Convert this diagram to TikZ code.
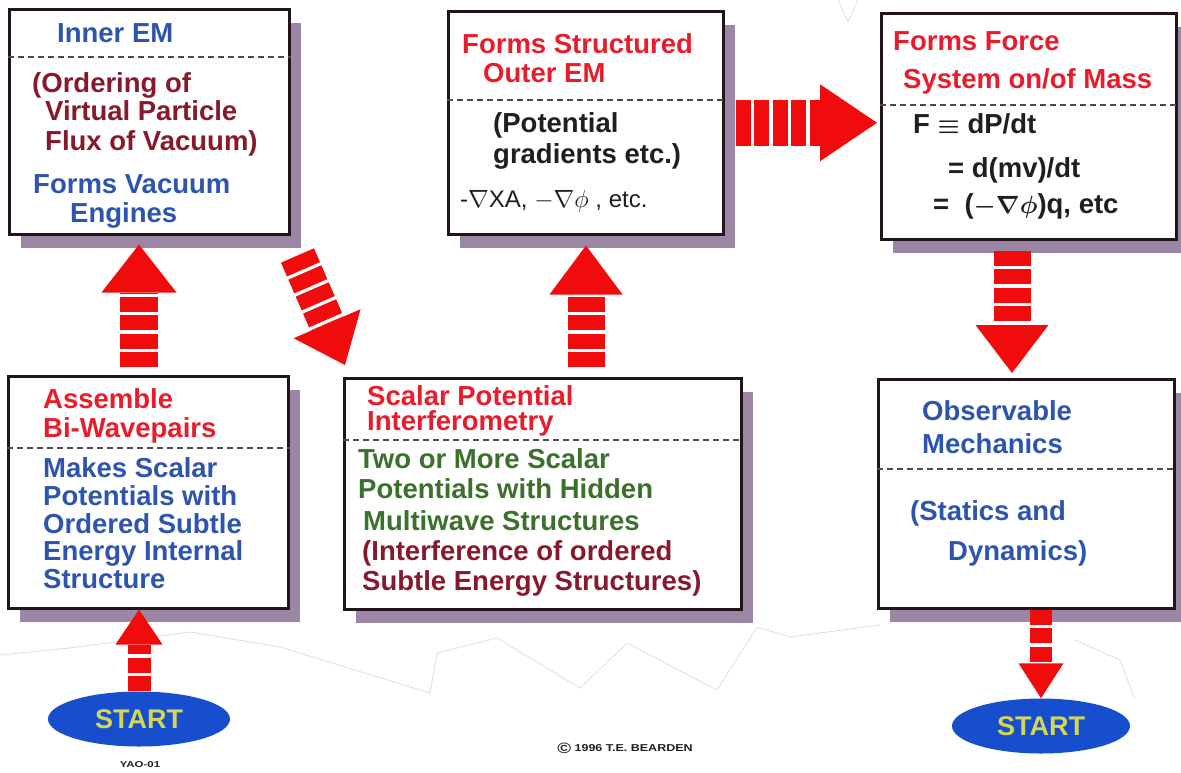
\documentclass[tikz,border=0pt]{standalone}
\usepackage{fontspec}
\setmainfont{Liberation Sans}
\usetikzlibrary{arrows.meta,shadows,calc,shapes.geometric}
\definecolor{redtext}{RGB}{232,28,42}
\definecolor{bluetext}{RGB}{45,85,175}
\definecolor{maroon}{RGB}{135,25,45}
\definecolor{greentext}{RGB}{60,112,45}
\definecolor{blacktext}{RGB}{35,30,30}
\definecolor{arrowred}{RGB}{240,12,12}
\definecolor{shadowc}{RGB}{155,135,165}
\definecolor{framec}{RGB}{35,20,25}
\definecolor{startblue}{RGB}{22,78,205}
\definecolor{startyellow}{RGB}{212,215,85}
\begin{document}
\begin{tikzpicture}[x=1pt,y=-1pt,
  box/.style={draw=framec, line width=2.5pt, fill=white, inner sep=0pt, anchor=north west,
    drop shadow={shadow xshift=12pt,shadow yshift=-14pt,fill=shadowc,opacity=1}},
  txt/.style={anchor=base west, inner sep=0pt, font=\bfseries\fontsize{27.5}{30}\selectfont\boldmath},
  divider/.style={draw=black!70, line width=1.2pt, dash pattern=on 6pt off 4pt},
  fatarrow/.style n args={3}{draw=arrowred, line width=#1, dash pattern=on 15pt off 3.5pt,
    -{Triangle[length=#2,width=#3,line width=0pt]}},
  startnode/.style={ellipse, fill=startblue, inner sep=0pt, text=startyellow,
    font=\bfseries\fontsize{27}{30}\selectfont},
  bgline/.style={draw=gray!25, line width=0.8pt}
]
\useasboundingbox (0,0) rectangle (1181,772);
\fill[white] (0,0) rectangle (1181,772);
% faint background lines
\draw[bgline] (0,655) -- (70,648) -- (190,632) -- (280,647) -- (430,693) -- (437,653) -- (497,638)
  -- (580,688) -- (627,643) -- (717,690) -- (757,627) -- (790,637) -- (880,625);
\draw[bgline] (1075,640) -- (1120,660) -- (1135,700);
\draw[bgline] (838,0) -- (848,22) -- (858,0);

% boxes
\node[box, minimum width=280pt, minimum height=225pt] (b1) at (8,8) {};
\node[box, minimum width=275pt, minimum height=223pt] (b2) at (447,10) {};
\node[box, minimum width=295pt, minimum height=226pt] (b3) at (880,12) {};
\node[box, minimum width=280pt, minimum height=232pt] (b4) at (7,375) {};
\node[box, minimum width=397pt, minimum height=231pt] (b5) at (343,377) {};
\node[box, minimum width=296pt, minimum height=229pt] (b6) at (877,378) {};

% dividers
\draw[divider] ([yshift=-49pt]b1.north west) -- ([yshift=-49pt]b1.north east);
\draw[divider] ([yshift=-90pt]b2.north west) -- ([yshift=-90pt]b2.north east);
\draw[divider] ([yshift=-93pt]b3.north west) -- ([yshift=-93pt]b3.north east);
\draw[divider] ([yshift=-73pt]b4.north west) -- ([yshift=-73pt]b4.north east);
\draw[divider] ([yshift=-63pt]b5.north west) -- ([yshift=-63pt]b5.north east);
\draw[divider] ([yshift=-91pt]b6.north west) -- ([yshift=-91pt]b6.north east);

% box 1 text
\node[txt, text=bluetext] (t1a) at (57,42) {Inner EM};
\node[txt, text=maroon] (t1b) at (32,92) {(Ordering of};
\node[txt, text=maroon] (t1c) at (45,120) {Virtual Particle};
\node[txt, text=maroon] (t1d) at (45,150) {Flux of Vacuum)};
\node[txt, text=bluetext] (t1e) at (33,193) {Forms Vacuum};
\node[txt, text=bluetext] (t1f) at (70,222) {Engines};

% box 2 text
\node[txt, text=redtext] (t2a) at (462,53) {Forms Structured};
\node[txt, text=redtext] (t2b) at (483,82) {Outer EM};
\node[txt, text=blacktext] (t2c) at (493,132) {(Potential};
\node[txt, text=blacktext] (t2d) at (493,163) {gradients etc.)};
\node[anchor=base west, inner sep=0pt, text=blacktext, font=\fontsize{24}{28}\selectfont] (t2e) at (460,207) {-$\nabla$XA, $-\nabla\phi$~, etc.};

% box 3 text
\node[txt, text=redtext] (t3a) at (893,50) {Forms Force};
\node[txt, text=redtext] (t3b) at (903,88) {System on/of Mass};
\node[txt, text=blacktext] (t3c) at (913,133) {F $\equiv$ dP/dt};
\node[txt, text=blacktext] (t3d) at (948,177) {= d(mv)/dt};
\node[txt, text=blacktext] (t3e) at (933,213) {=~ ($-\nabla\phi$)q, etc};

% box 4 text
\node[txt, text=redtext] (t4a) at (43,408) {Assemble};
\node[txt, text=redtext] (t4b) at (43,437) {Bi-Wavepairs};
\node[txt, text=bluetext] (t4c) at (43,477) {Makes Scalar};
\node[txt, text=bluetext] (t4d) at (43,505) {Potentials with};
\node[txt, text=bluetext] (t4e) at (43,533) {Ordered Subtle};
\node[txt, text=bluetext] (t4f) at (43,560) {Energy Internal};
\node[txt, text=bluetext] (t4g) at (43,588) {Structure};

% box 5 text
\node[txt, text=redtext] (t5a) at (367,405) {Scalar Potential};
\node[txt, text=redtext] (t5b) at (367,430) {Interferometry};
\node[txt, text=greentext] (t5c) at (358,468) {Two or More Scalar};
\node[txt, text=greentext] (t5d) at (358,498) {Potentials with Hidden};
\node[txt, text=greentext] (t5e) at (363,530) {Multiwave Structures};
\node[txt, text=maroon] (t5f) at (362,560) {(Interference of ordered};
\node[txt, text=maroon] (t5g) at (362,590) {Subtle Energy Structures)};

% box 6 text
\node[txt, text=bluetext] (t6a) at (922,420) {Observable};
\node[txt, text=bluetext] (t6b) at (922,453) {Mechanics};
\node[txt, text=bluetext] (t6c) at (910,520) {(Statics and};
\node[txt, text=bluetext] (t6d) at (948,560) {Dynamics)};

% start ellipses
\node[startnode, minimum width=182pt, minimum height=55pt] (start1) at (139,719) {START};
\node[startnode, minimum width=178pt, minimum height=55pt] (start2) at (1041,726) {START};

% small labels
\node[inner sep=0pt, text=blacktext, font=\bfseries\fontsize{8.5}{10}\selectfont, xscale=1.35] (yao) at (140,765) {YAO-01};
\node[inner sep=0pt, text=blacktext, font=\bfseries\fontsize{10}{12}\selectfont, xscale=1.25] (copy) at (625,748) {{\fontsize{15}{15}\selectfont\raisebox{-1.5pt}{©}} 1996 T.E. BEARDEN};

% arrows
\coordinate (c3) at (586,300);
\coordinate (c5) at (1012,300);
\draw[fatarrow={23pt}{35pt}{47pt}] (start1.north) -- (start1 |- b4.south);
\draw[fatarrow={38pt}{48pt}{75pt}, shorten <=8pt, shorten >=9pt] (start1 |- b4.north) -- (start1 |- b1.south);
\draw[fatarrow={36pt}{45pt}{73pt}] ($(b1.south east)+(7,20)$) -- ($(b5.north west)+(2,-12)$);
\draw[fatarrow={37pt}{49pt}{73pt}, shorten <=10pt, shorten >=10pt] (c3 |- b5.north) -- (c3 |- b2.south);
\draw[fatarrow={46pt}{57pt}{77pt}, shorten <=11pt, shorten >=3pt] (b2.east) -- (b2.east -| b3.west);
\draw[fatarrow={37pt}{48pt}{73pt}, shorten <=10pt, shorten >=5pt] (c5 |- b3.south) -- (c5 |- b6.north);
\draw[fatarrow={22pt}{35pt}{45pt}] (start2 |- b6.south) -- (start2.north);
\end{tikzpicture}
\end{document}
